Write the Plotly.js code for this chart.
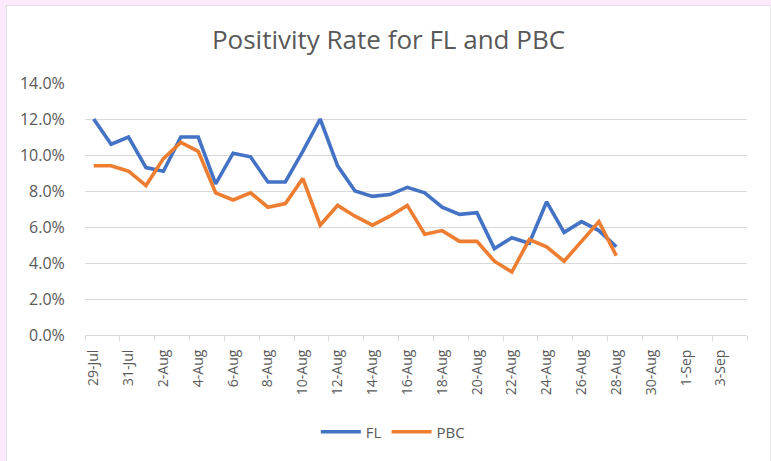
<!DOCTYPE html>
<html>
<head>
<meta charset="utf-8">
<script src="https://cdn.plot.ly/plotly-3.0.1.min.js"></script>
<style>
  html, body { margin: 0; padding: 0; background: #fce9fb; width: 771px; height: 461px; overflow: hidden; }
  #chart { position: absolute; left: 6px; top: 5px; width: 763px; height: 456px;
           border-left: 1px solid #e2dde2; border-top: 1px solid #e2dde2; border-right: 1px solid #e6e6e6; background: #fff; }
</style>
</head>
<body>
<div id="chart"></div>
<script>
const dates = [
  '2020-07-29','2020-07-30','2020-07-31','2020-08-01','2020-08-02','2020-08-03','2020-08-04','2020-08-05',
  '2020-08-06','2020-08-07','2020-08-08','2020-08-09','2020-08-10','2020-08-11','2020-08-12','2020-08-13',
  '2020-08-14','2020-08-15','2020-08-16','2020-08-17','2020-08-18','2020-08-19','2020-08-20','2020-08-21',
  '2020-08-22','2020-08-23','2020-08-24','2020-08-25','2020-08-26','2020-08-27','2020-08-28'
];
const flRate = [
  0.120, 0.106, 0.110, 0.093, 0.091, 0.110, 0.110, 0.084,
  0.101, 0.099, 0.085, 0.085, 0.102, 0.120, 0.094, 0.080,
  0.077, 0.078, 0.082, 0.079, 0.071, 0.067, 0.068, 0.048,
  0.054, 0.051, 0.074, 0.057, 0.063, 0.058, 0.049
];
const pbcRate = [
  0.094, 0.094, 0.091, 0.083, 0.098, 0.107, 0.102, 0.079,
  0.075, 0.079, 0.071, 0.073, 0.087, 0.061, 0.072, 0.066,
  0.061, 0.066, 0.072, 0.056, 0.058, 0.052, 0.052, 0.041,
  0.035, 0.053, 0.049, 0.041, 0.052, 0.063, 0.044
];
const seriesNames = ['FL', 'PBC'];
const chartTitle = 'Positivity Rate for FL and PBC';

const traces = [
  { x: dates, y: flRate, name: seriesNames[0], type: 'scatter', mode: 'lines',
    line: { color: '#4472C4', width: 3.6 } },
  { x: dates, y: pbcRate, name: seriesNames[1], type: 'scatter', mode: 'lines',
    line: { color: '#ED7D31', width: 3.6 } }
];

const layout = {
  width: 763, height: 456,
  margin: { l: 78, r: 23, t: 77, b: 127 },
  paper_bgcolor: '#ffffff', plot_bgcolor: '#ffffff',
  font: { family: 'Open Sans, sans-serif', color: '#595959', size: 13 },
  title: { text: chartTitle, x: 0.5, xanchor: 'center', y: 0.925, yanchor: 'middle',
           font: { family: 'Open Sans, sans-serif', size: 26, color: '#595959' } },
  showlegend: true,
  legend: { orientation: 'h', x: 0.465, xanchor: 'center', y: -0.385, yanchor: 'middle',
            font: { size: 15, color: '#595959' }, itemwidth: 40 },
  xaxis: {
    type: 'date',
    range: ['2020-07-28 12:00', '2020-09-04 12:00'],
    tick0: '2020-07-29', dtick: 172800000, tickformat: '%-d-%b',
    tickangle: -90, ticks: 'outside', ticklen: 8, tickcolor: 'rgba(0,0,0,0)',
    tickfont: { size: 14, color: '#595959' },
    showgrid: false, showline: true, linecolor: '#d9d9d9', linewidth: 1,
    zeroline: false,
    minor: { tick0: '2020-07-28 12:00', dtick: 172800000, ticks: 'outside', ticklen: 5,
             tickcolor: '#d9d9d9', tickwidth: 1, showgrid: false }
  },
  yaxis: {
    range: [0, 0.14], dtick: 0.02, tickformat: '.1%',
    showgrid: true, gridcolor: '#d9d9d9', gridwidth: 1,
    zeroline: false, showline: false,
    ticks: 'outside', ticklen: 16, tickcolor: 'rgba(0,0,0,0)',
    tickfont: { size: 16, color: '#595959' }
  }
};

Plotly.newPlot('chart', traces, layout, { displayModeBar: false, staticPlot: true });
</script>
</body>
</html>
